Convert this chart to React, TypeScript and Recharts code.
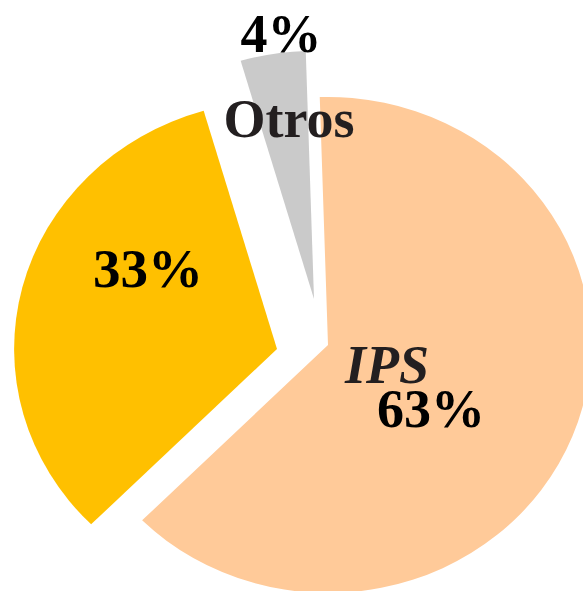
import { PieChart, Pie, Sector } from "recharts";

// shares (labels say 63 / 33 / 4)
const categories = ["IPS", "", "Otros"];
const shares = [63, 33, 4];
const colors = ["#FFCA99", "#FFC000", "#CACACA"];

const data = categories.map((name, idx) => ({ name, value: shares[idx], idx }));

// original image is stretched a bit horizontally
const SX = 1.06;
// how far each slice is pulled out of the pie
const EXPLODE = [
  [0, 0],
  [-51, 4],
  [-14, -46],
];
// label lines, offsets from the slice tip
const LABEL_LINES = [
  [
    { kind: "name", dx: 59, dy: 38, size: 54 },
    { kind: "pct", dx: 103, dy: 82, size: 54 },
  ],
  [{ kind: "pct", dx: -129, dy: -62, size: 55 }],
  [
    { kind: "pct", dx: -33, dy: -247, size: 54 },
    { kind: "name", dx: -25, dy: -162, size: 54 },
  ],
];

const FONT = '"Liberation Serif", "DejaVu Serif", serif';

function ExplodedSlice(props: any) {
  const i = props.payload?.idx ?? props.index ?? 0;
  const [dx, dy] = EXPLODE[i];
  const ax = props.cx + dx;
  const ay = props.cy + dy;
  return (
    <g transform={`translate(${ax} ${ay}) scale(${SX} 1) translate(${-ax} ${-ay})`}>
      <Sector {...props} cx={ax} cy={ay} stroke="none" strokeWidth={0} />
    </g>
  );
}

function renderLabel(props: any) {
  const { cx, cy, index, value, name } = props;
  const [ex, ey] = EXPLODE[index];
  const ax = cx + ex;
  const ay = cy + ey;
  return (
    <g>
      {LABEL_LINES[index].map((l, k) => (
        <text
          key={k}
          x={ax + l.dx}
          y={ay + l.dy}
          textAnchor="middle"
          fontFamily={FONT}
          fontWeight={700}
          fontSize={l.size}
          fontStyle={l.kind === "name" && name === "IPS" ? "italic" : "normal"}
          fill={l.kind === "name" ? "#231F20" : "#000"}
        >
          {l.kind === "name" ? name : `${value}%`}
        </text>
      ))}
    </g>
  );
}

export default function App() {
  return (
    <div style={{ position: "absolute", left: 0, top: 0, width: 583, height: 591, background: "#fff" }}>
      <PieChart width={583} height={591} margin={{ top: 0, right: 0, bottom: 0, left: 0 }}>
        <Pie
          data={data}
          dataKey="value"
          nameKey="name"
          cx={328}
          cy={345}
          outerRadius={248}
          startAngle={91.8}
          endAngle={-268.2}
          stroke="none"
          shape={ExplodedSlice}
          label={renderLabel}
          labelLine={false}
          isAnimationActive={false}
        >
          {data.map((d) => (
            <Cell key={d.idx} fill={colors[d.idx]} />
          ))}
        </Pie>
      </PieChart>
    </div>
  );
}

import { Cell } from "recharts";
